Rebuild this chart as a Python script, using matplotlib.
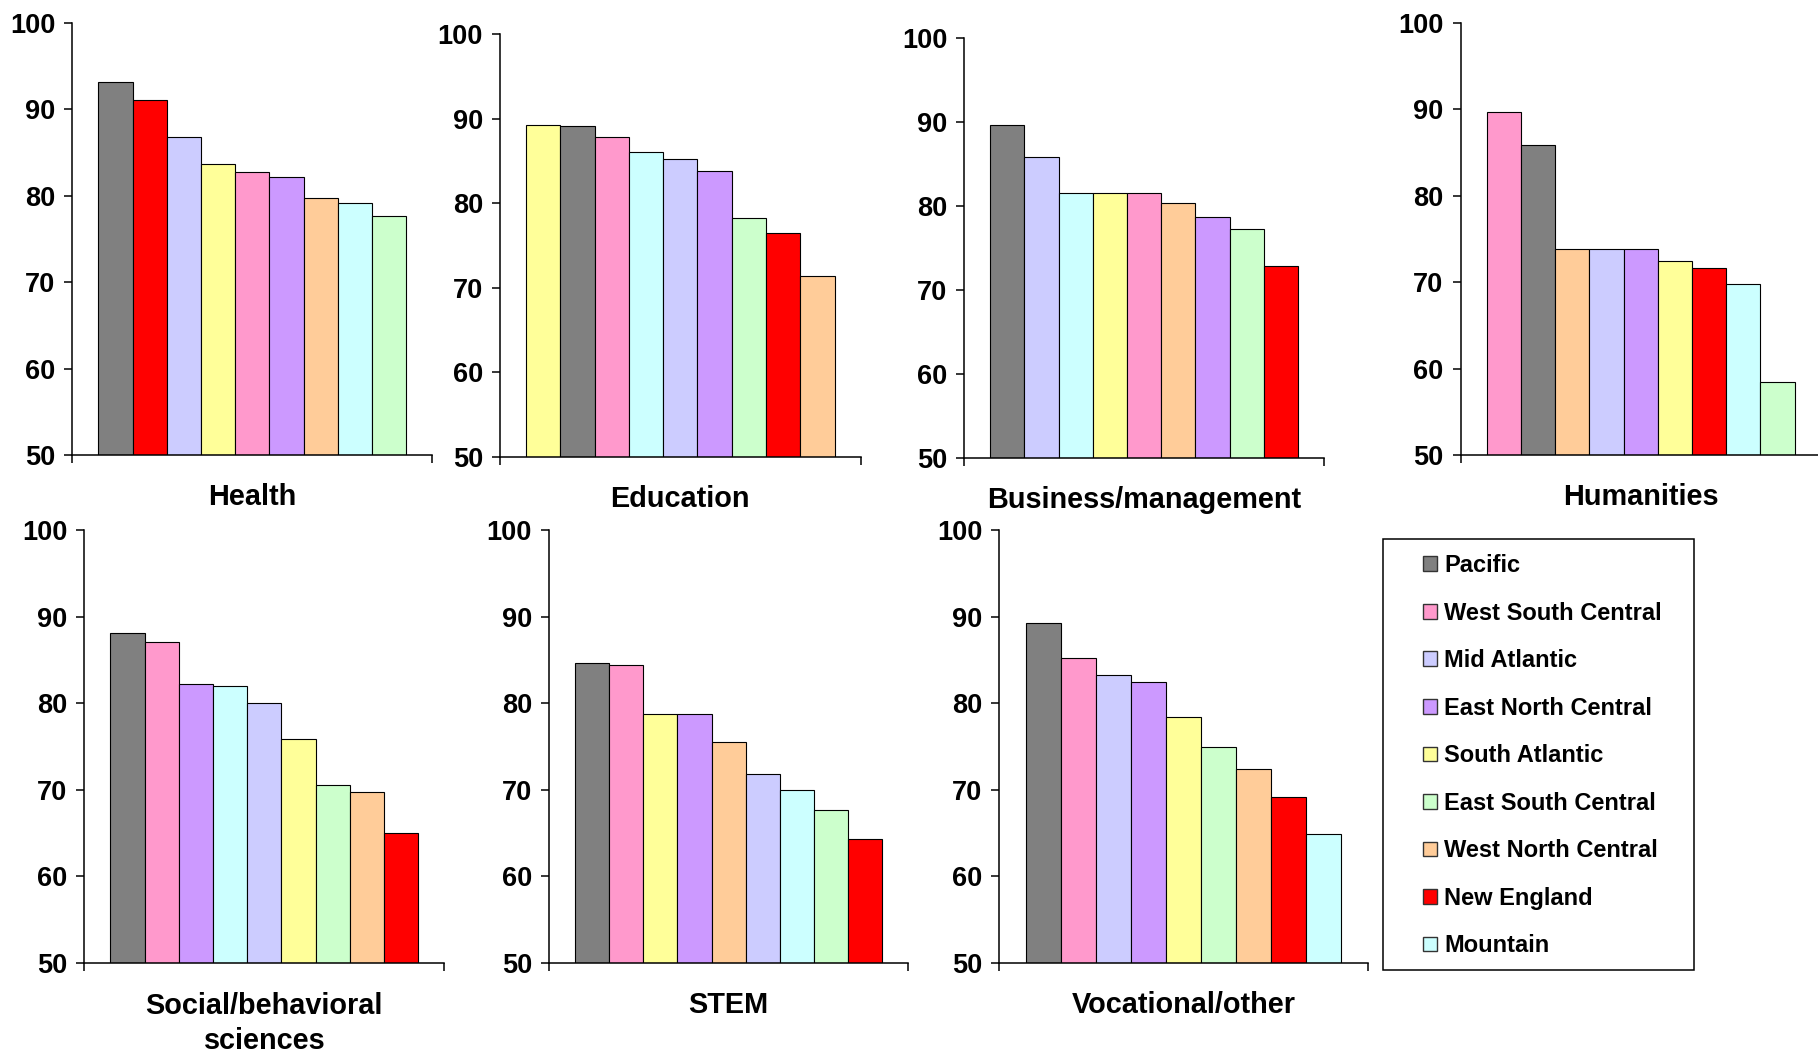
import matplotlib
matplotlib.use("Agg")
import matplotlib.pyplot as plt
from matplotlib.patches import Patch, Rectangle
from matplotlib.transforms import offset_copy

plt.rcParams["font.family"] = ["Liberation Sans", "DejaVu Sans"]
plt.rcParams["font.weight"] = "bold"

# -------------------------------
# DATA
# -------------------------------
regions = ["Pacific", "West South Central", "Mid Atlantic", "East North Central",
           "South Atlantic", "East South Central", "West North Central",
           "New England", "Mountain"]
region_colors = ["#808080", "#FF99CC", "#CCCCFF", "#CC99FF",
                 "#FFFF99", "#CCFFCC", "#FFCC99", "#FF0000", "#CCFFFF"]

fields = ["Health", "Education", "Business/management", "Humanities",
          "Social/behavioral\nsciences", "STEM", "Vocational/other"]

health_order = ["Pacific", "New England", "Mid Atlantic", "South Atlantic", "West South Central",
                "East North Central", "West North Central", "Mountain", "East South Central"]
health_values = [93.1, 91.1, 86.8, 83.6, 82.7, 82.1, 79.7, 79.1, 77.7]

education_order = ["South Atlantic", "Pacific", "West South Central", "Mountain", "Mid Atlantic",
                   "East North Central", "East South Central", "New England", "West North Central"]
education_values = [89.3, 89.1, 87.9, 86.1, 85.3, 83.8, 78.3, 76.5, 71.4]

business_order = ["Pacific", "Mid Atlantic", "Mountain", "South Atlantic", "West South Central",
                  "West North Central", "East North Central", "East South Central", "New England"]
business_values = [89.6, 85.8, 81.5, 81.5, 81.5, 80.3, 78.7, 77.3, 72.8]

humanities_order = ["West South Central", "Pacific", "West North Central", "Mid Atlantic",
                    "East North Central", "South Atlantic", "New England", "Mountain", "East South Central"]
humanities_values = [89.7, 85.8, 73.8, 73.8, 73.8, 72.4, 71.6, 69.8, 58.4]

social_order = ["Pacific", "West South Central", "East North Central", "Mountain", "Mid Atlantic",
                "South Atlantic", "East South Central", "West North Central", "New England"]
social_values = [88.1, 87.1, 82.2, 82.0, 80.0, 75.8, 70.5, 69.7, 65.0]

stem_order = ["Pacific", "West South Central", "South Atlantic", "East North Central",
              "West North Central", "Mid Atlantic", "Mountain", "East South Central", "New England"]
stem_values = [84.6, 84.4, 78.7, 78.7, 75.5, 71.8, 70.0, 67.6, 64.3]

vocational_order = ["Pacific", "West South Central", "Mid Atlantic", "East North Central",
                    "South Atlantic", "East South Central", "West North Central", "New England", "Mountain"]
vocational_values = [89.3, 85.2, 83.2, 82.4, 78.4, 74.9, 72.4, 69.1, 64.9]

panel_orders = [health_order, education_order, business_order, humanities_order,
                social_order, stem_order, vocational_order]
panel_values = [health_values, education_values, business_values, humanities_values,
                social_values, stem_values, vocational_values]

# -------------------------------
# LAYOUT (pixel boxes: left, right, top, bottom)
# -------------------------------
W, H = 1818, 1053
boxes = [
    (72.3, 432.3, 22.7, 455.0),
    (500.0, 860.7, 34.3, 457.0),
    (964.3, 1324.0, 38.0, 457.7),
    (1460.7, 1820.7, 22.7, 455.0),
    (84.3, 444.3, 530.0, 962.7),
    (549.0, 908.3, 530.0, 962.7),
    (999.3, 1367.7, 530.0, 962.7),
]

color_of = dict(zip(regions, region_colors))
fig = plt.figure(figsize=(W / 100, H / 100), dpi=100)

margin = 0.76
for (l, r, t, b), field, order, values in zip(boxes, fields, panel_orders, panel_values):
    ax = fig.add_axes([l / W, 1 - b / H, (r - l) / W, (b - t) / H])
    x = range(len(values))
    ax.bar(x, values, width=1.0, color=[color_of[n] for n in order],
           edgecolor="black", linewidth=0.8)
    xmin, xmax = -0.5 - margin, len(values) - 0.5 + margin
    ax.set_xlim(xmin, xmax)
    ax.set_ylim(50, 100)
    ax.set_yticks([50, 60, 70, 80, 90, 100])
    ax.set_xticks([xmin, xmax])
    ax.set_xticklabels([])
    for side in ["top", "right"]:
        ax.spines[side].set_visible(False)
    for side in ["left", "bottom"]:
        ax.spines[side].set_linewidth(1.1)
    ax.tick_params(axis="both", direction="out", length=5.8, width=1.1,
                   labelsize=19.5, pad=6.5)
    ax.patch.set_visible(False)
    # baseline of the field name sits ~50 px under the axis; extra lines go below
    extra = 36 * field.count("\n")
    tr = offset_copy(ax.transAxes, fig=fig, x=0, y=-50 - extra, units="dots")
    ax.text(0.5, 0, field, transform=tr, ha="center", va="baseline",
            fontsize=20.8, fontweight="bold", linespacing=1.32)

# -------------------------------
# LEGEND
# -------------------------------
fig.add_artist(Rectangle((1383.3 / W, 1 - 970.0 / H), (1694.3 - 1383.3) / W, (970.0 - 539.3) / H,
                         transform=fig.transFigure, fill=False, edgecolor="black", linewidth=1.1))
handles = [Patch(facecolor=c, edgecolor="#333333", linewidth=1.0) for c in region_colors]
fig.legend(handles, regions, loc="upper left", bbox_to_anchor=(1423 / W, 1 - 554 / H),
           frameon=False, borderpad=0, borderaxespad=0,
           handlelength=0.58, handleheight=0.58, handletextpad=0.31, labelspacing=1.04,
           prop={"weight": "bold", "size": 17})

fig.savefig("out.png", dpi=100)
